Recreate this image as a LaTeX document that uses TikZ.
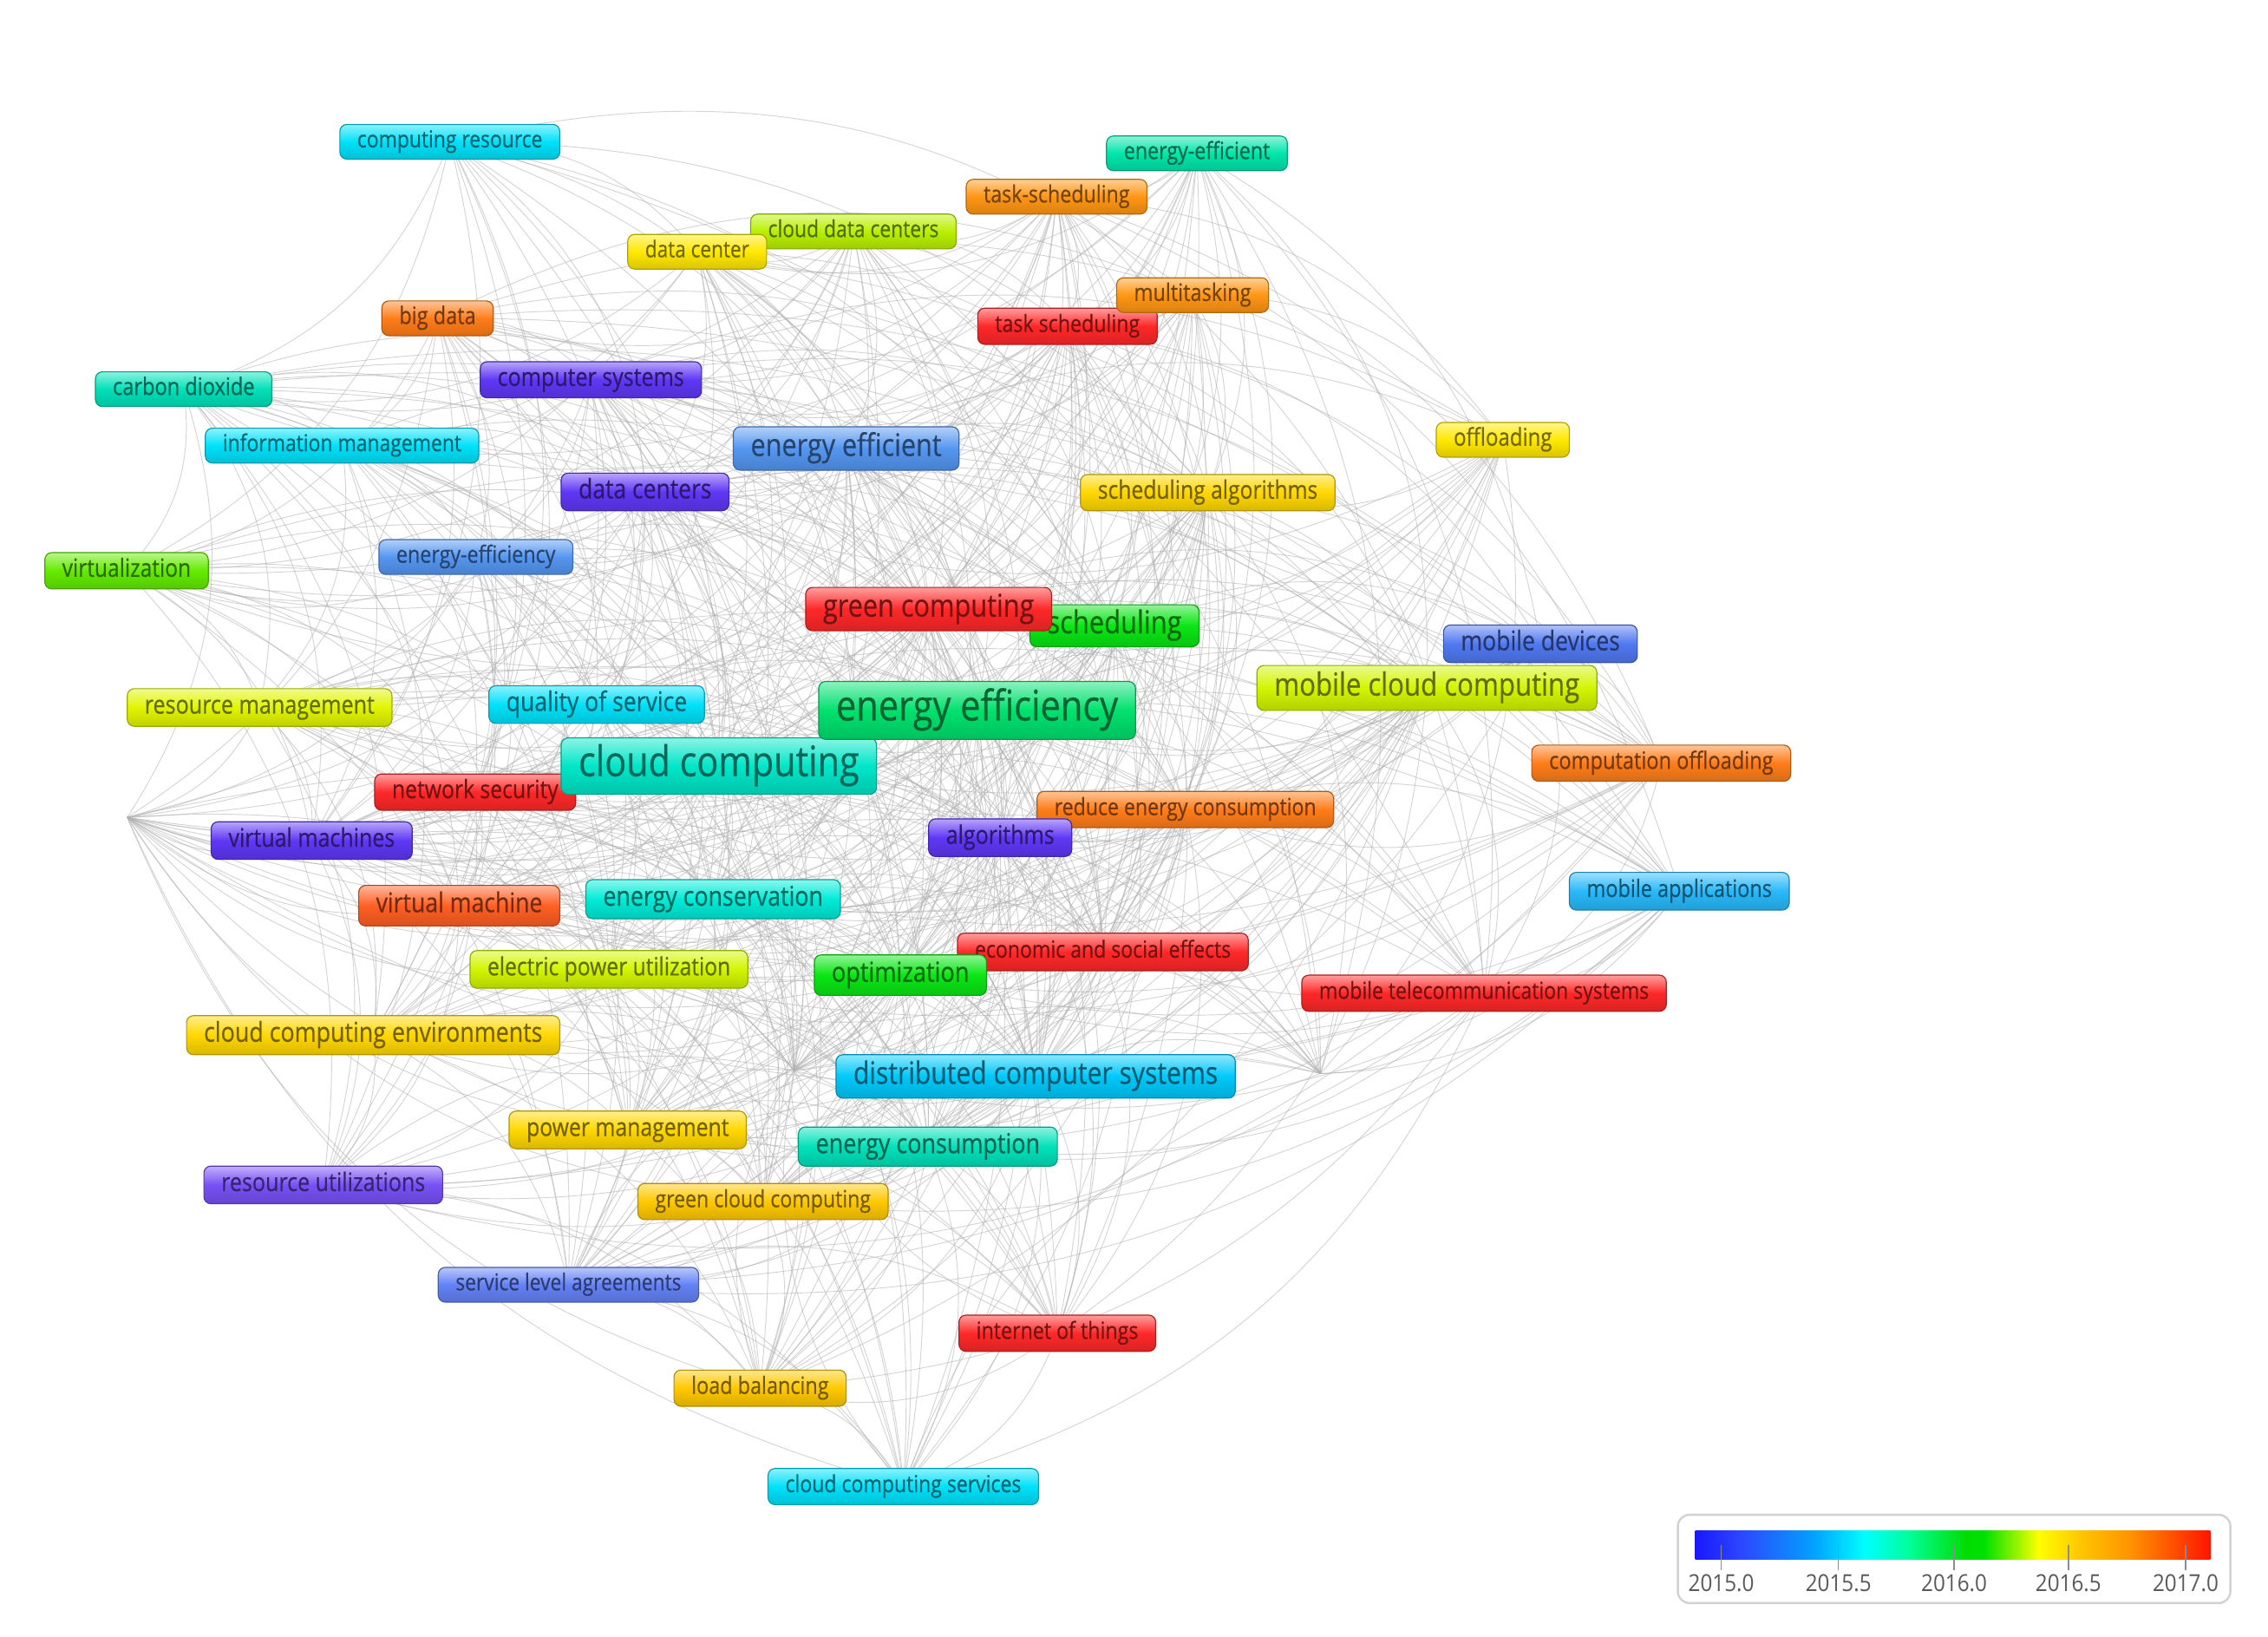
\documentclass[tikz,border=0pt]{standalone}
\usepackage{fontspec}
\usepackage{graphicx}
\newfontfamily\lab[FakeStretch=0.85,FakeBold=0.4]{Open Sans}
\newfontfamily\legfont[FakeStretch=0.9]{Open Sans}
\pgfdeclarelayer{bg}\pgfdeclarelayer{edges}
\pgfsetlayers{bg,edges,main}
\newlength\kunit \setlength\kunit{0.025cm}
\newcommand\kl[2]{\resizebox{#1\kunit}{!}{\strut#2}}
\definecolor{cCyan}{RGB}{0,225,250}
\definecolor{cCyanB}{RGB}{0,200,250}
\definecolor{cTealA}{RGB}{0,230,170}
\definecolor{cTealB}{RGB}{0,225,185}
\definecolor{cTealC}{RGB}{0,230,200}
\definecolor{cTealD}{RGB}{0,235,215}
\definecolor{cEff}{RGB}{0,225,110}
\definecolor{cGrn}{RGB}{10,230,20}
\definecolor{cVirt}{RGB}{100,235,0}
\definecolor{cYGA}{RGB}{185,240,0}
\definecolor{cYGB}{RGB}{210,245,0}
\definecolor{cYGC}{RGB}{225,245,0}
\definecolor{cYel}{RGB}{255,232,0}
\definecolor{cYelB}{RGB}{255,215,0}
\definecolor{cYelC}{RGB}{255,200,0}
\definecolor{cOrA}{RGB}{255,150,20}
\definecolor{cOrB}{RGB}{255,125,25}
\definecolor{cOrC}{RGB}{255,95,35}
\definecolor{cRed}{RGB}{255,40,40}
\definecolor{cBluA}{RGB}{85,150,240}
\definecolor{cBluB}{RGB}{80,120,240}
\definecolor{cBluC}{RGB}{100,130,245}
\definecolor{cBluD}{RGB}{40,185,250}
\definecolor{cPur}{RGB}{95,55,245}
\definecolor{cPurB}{RGB}{120,80,245}
\definecolor{lgA}{RGB}{25,25,255}
\definecolor{lgB}{RGB}{45,70,255}
\definecolor{lgC}{RGB}{0,165,255}
\definecolor{lgD}{RGB}{0,255,255}
\definecolor{lgE}{RGB}{0,255,150}
\definecolor{lgF}{RGB}{0,220,0}
\definecolor{lgG}{RGB}{0,225,0}
\definecolor{lgH}{RGB}{255,255,0}
\definecolor{lgI}{RGB}{255,200,0}
\definecolor{lgJ}{RGB}{255,140,0}
\definecolor{lgK}{RGB}{255,20,0}
\tikzset{
  kw/.style 2 args={draw=#1!70!black, line width=0.5pt, top color=#1!45!white,
    bottom color=#1!85!black, middle color=#1, text=#1!45!black,
    rounded corners=0.12cm, inner xsep=0.3cm, inner ysep=0pt,
    minimum height=#2*0.025cm, font=\lab},
  lnk/.style={draw=black!30, line width=0.4pt, opacity=0.55},
  legl/.style={font=\legfont\fontsize{11.5}{13}\selectfont, text=black!65, inner sep=0pt}
}
\def\elist{cr/311/98/0.5, eeh/827/106/0.5, tsh/730/136/0.5, cdc/590/160/0.55, dc/482/174/0.55, bd/302/220/0.45, mt/825/204/0.5, ts/738/226/0.7, co2/127/269/0.45, cs/408/262/0.7, im/237/308/0.55, ee/585/310/0.9, off/1039/304/0.45, dcs/446/340/0.85, sa/835/341/0.7, eey/329/385/0.55, virt/88/394/0.55, gc/642/421/0.9, sch/770/432/0.85, md/1065/445/0.5, mcc/986/475/0.7, rm/179/489/0.6, qos/412/487/0.7, eff/675/491/1, cc/497/529/1, cof/1148/527/0.45, ns/328/547/0.6, rec/819/559/0.6, vms/215/581/0.7, alg/691/579/0.7, mapp/1161/616/0.45, vm/318/626/0.7, econ/493/621/0.75, eco/762/658/0.6, epu/421/670/0.65, opt/622/674/0.7, mts/1026/686/0.5, cce/258/715/0.65, dcsys/716/744/0.85, pm/434/781/0.6, econs/641/792/0.8, ru/223/819/0.55, gcc/527/830/0.6, sla/393/888/0.55, iot/731/921/0.5, lb/525/960/0.5, ccs/624/1027/0.5, h1/88/565/0.6, h2/549/740/0.6, h3/913/742/0.5}
\begin{document}
\begin{tikzpicture}[x=0.025cm, y=-0.025cm]
\useasboundingbox (0,0) rectangle (1568,1131);
\begin{pgfonlayer}{bg}
\fill[white] (0,0) rectangle (1568,1131);
\end{pgfonlayer}
% hidden hubs
\coordinate (h1) at (88,565);
\coordinate (h2) at (549,740);
\coordinate (h3) at (913,742);
% keyword nodes
\node[kw={cCyan}{24}] (cr) at (311,98) {\kl{128}{computing resource}};
\node[kw={cTealA}{24}] (eeh) at (827.5,106) {\kl{101}{energy-efficient}};
\node[kw={cOrA}{24}] (tsh) at (730.5,136) {\kl{101}{task-scheduling}};
\node[kw={cYGA}{24}] (cdc) at (590,160) {\kl{118}{cloud data centers}};
\node[kw={cYel}{24}] (dc) at (482,174) {\kl{72}{data center}};
\node[kw={cOrB}{24}] (bd) at (302.5,220) {\kl{53}{big data}};
\node[kw={cRed}{25}] (ts) at (738,225.5) {\kl{100}{task scheduling}};
\node[kw={cOrA}{24}] (mt) at (824.5,204) {\kl{81}{multitasking}};
\node[kw={cTealB}{24}] (co2) at (127,269) {\kl{98}{carbon dioxide}};
\node[kw={cPur}{25}] (cs) at (408.5,262.5) {\kl{129}{computer systems}};
\node[kw={cCyan}{24}] (im) at (236.5,308) {\kl{165}{information management}};
\node[kw={cBluA}{30}] (ee) at (585,310) {\kl{132}{energy efficient}};
\node[kw={cYel}{24}] (off) at (1039,304) {\kl{68}{offloading}};
\node[kw={cPur}{26}] (dcs) at (446,340) {\kl{92}{data centers}};
\node[kw={cYelB}{25}] (sa) at (835,340.5) {\kl{152}{scheduling algorithms}};
\node[kw={cBluA}{24}] (eey) at (329,385) {\kl{110}{energy-efficiency}};
\node[kw={cVirt}{25}] (virt) at (87.5,394.5) {\kl{89}{virtualization}};
\node[kw={cGrn}{29}] (sch) at (770.5,432.5) {\kl{93}{scheduling}};
\node[kw={cRed}{30}] (gc) at (642,421) {\kl{146}{green computing}};
\node[kw={cBluB}{26}] (md) at (1065,445) {\kl{110}{mobile devices}};
\node[kw={cYGB}{31}] (mcc) at (986.5,475.5) {\kl{211}{mobile cloud computing}};
\node[kw={cYGC}{26}] (rm) at (179.5,489) {\kl{159}{resource management}};
\node[kw={cCyan}{26}] (qos) at (412.5,487) {\kl{125}{quality of service}};
\node[kw={cRed}{25}] (ns) at (328.5,547.5) {\kl{115}{network security}};
\node[kw={cTealC}{39}] (cc) at (497,529.5) {\kl{194}{cloud computing}};
\node[kw={cEff}{40}] (eff) at (675.5,491) {\kl{195}{energy efficiency}};
\node[kw={cOrB}{25}] (cof) at (1148.5,527.5) {\kl{155}{computation offloading}};
\node[kw={cOrB}{25}] (rec) at (819.5,559.5) {\kl{181}{reduce energy consumption}};
\node[kw={cPur}{26}] (vms) at (215.5,581) {\kl{115}{virtual machines}};
\node[kw={cPur}{26}] (alg) at (691.5,579) {\kl{75}{algorithms}};
\node[kw={cBluD}{26}] (mapp) at (1161,616) {\kl{128}{mobile applications}};
\node[kw={cOrC}{28}] (vm) at (317.5,626) {\kl{115}{virtual machine}};
\node[kw={cTealD}{27}] (econ) at (493,621.5) {\kl{152}{energy conservation}};
\node[kw={cRed}{26}] (eco) at (762.5,658) {\kl{177}{economic and social effects}};
\node[kw={cYGB}{26}] (epu) at (421,670) {\kl{168}{electric power utilization}};
\node[kw={cGrn}{28}] (opt) at (622.5,674) {\kl{95}{optimization}};
\node[kw={cRed}{25}] (mts) at (1026,686.5) {\kl{228}{mobile telecommunication systems}};
\node[kw={cYelB}{27}] (cce) at (258,715.5) {\kl{234}{cloud computing environments}};
\node[kw={cCyanB}{30}] (dcsys) at (716,744) {\kl{252}{distributed computer systems}};
\node[kw={cYelB}{26}] (pm) at (434,781) {\kl{140}{power management}};
\node[kw={cTealB}{27}] (econs) at (641.5,792.5) {\kl{155}{energy consumption}};
\node[kw={cPurB}{26}] (ru) at (223.5,819) {\kl{141}{resource utilizations}};
\node[kw={cYelC}{25}] (gcc) at (527.5,830.5) {\kl{149}{green cloud computing}};
\node[kw={cBluC}{24}] (sla) at (393,888) {\kl{156}{service level agreements}};
\node[kw={cRed}{25}] (iot) at (731,921.5) {\kl{112}{internet of things}};
\node[kw={cYelC}{25}] (lb) at (525.5,959.5) {\kl{95}{load balancing}};
\node[kw={cCyan}{25}] (ccs) at (624.5,1027.5) {\kl{163}{cloud computing services}};
% co-occurrence links
\begin{pgfonlayer}{edges}
\pgfmathsetseed{12345}
\foreach \a/\xa/\ya/\wa [count=\i] in \elist {
  \foreach \b/\xb/\yb/\wb [count=\j] in \elist {
    \ifnum\j>\i
      \pgfmathsetmacro\pp{\wa*\wb*2.6*exp(-veclen((\xb-\xa)/100,(\yb-\ya)/100)/9)}
      \pgfmathsetmacro\rr{rnd}
      \pgfmathtruncatemacro\hit{\rr<\pp}
      \ifnum\hit=1 \draw[lnk] (\a.center) to[bend left=25] (\b.center); \fi
    \fi
  }
}
\end{pgfonlayer}
% legend
\draw[black!18, line width=1pt, rounded corners=0.2cm] (1160,1047) rectangle (1542,1108);
\shade[left color=lgA, right color=lgB] (1172,1058) rectangle (1203.6,1078);
\shade[left color=lgB, right color=lgC] (1203,1058) rectangle (1255.6,1078);
\shade[left color=lgC, right color=lgD] (1255,1058) rectangle (1289.6,1078);
\shade[left color=lgD, right color=lgE] (1289,1058) rectangle (1320.6,1078);
\shade[left color=lgE, right color=lgF] (1320,1058) rectangle (1359.6,1078);
\shade[left color=lgF, right color=lgG] (1359,1058) rectangle (1372.6,1078);
\shade[left color=lgG, right color=lgH] (1372,1058) rectangle (1409.6,1078);
\shade[left color=lgH, right color=lgI] (1409,1058) rectangle (1437.6,1078);
\shade[left color=lgI, right color=lgJ] (1437,1058) rectangle (1476.6,1078);
\shade[left color=lgJ, right color=lgK] (1476,1058) rectangle (1528,1078);
\foreach \tx/\tl [count=\k] in {1190/2015.0, 1271/2015.5, 1351/2016.0, 1430/2016.5, 1511/2017.0} {
  \draw[black!45, line width=0.6pt] (\tx,1068) -- (\tx,1085);
  \node[legl] (yl\k) at (\tx,1094) {\tl};
}
\end{tikzpicture}
\end{document}
